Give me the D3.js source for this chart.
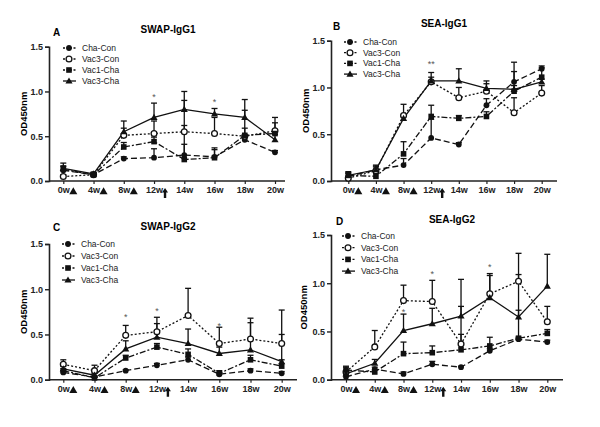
<!DOCTYPE html>
<html>
<head>
<meta charset="utf-8">
<script src="https://cdn.jsdelivr.net/npm/d3@7"></script>
<style>
  body { margin: 0; background: #fff; }
  svg { font-family: "Liberation Sans", Arial, sans-serif; }
  .tick text { font-size: 9px; font-weight: bold; fill: #222; }
</style>
</head>
<body>
<div id="chart"></div>
<script>
// Time points and groups
var weeks = ["0w", "4w", "8w", "12w", "14w", "16w", "18w", "20w"];
var groups = ["Cha-Con", "Vac3-Con", "Vac1-Cha", "Vac3-Cha"];
var yTicks = [0, 0.5, 1.0, 1.5];
var boostWeeks = ["0w", "4w", "8w"];   // triangles under the axis
var challengeWeek = "12w";             // arrow under the axis

// Means per group (rows follow "groups") and upper SEM
var swapIgG1Mean = [
  [0.12, 0.07, 0.25, 0.26, 0.29, 0.27, 0.46, 0.32],
  [0.05, 0.07, 0.51, 0.53, 0.55, 0.53, 0.50, 0.56],
  [0.13, 0.07, 0.38, 0.44, 0.24, 0.26, 0.51, 0.53],
  [0.14, 0.08, 0.55, 0.71, 0.80, 0.75, 0.71, 0.46]
];
var swapIgG1Err = [
  [0.05, 0.02, 0.02, 0.10, 0.12, 0.10, 0.03, 0.02],
  [0.02, 0.02, 0.08, 0.14, 0.35, 0.18, 0.09, 0.15],
  [0.03, 0.02, 0.05, 0.05, 0.38, 0.09, 0.28, 0.12],
  [0.06, 0.02, 0.12, 0.16, 0.20, 0.06, 0.20, 0.06]
];
var seaIgG1Mean = [
  [0.05, 0.12, 0.17, 0.46, 0.39, 0.81, 1.06, 1.20],
  [0.03, 0.11, 0.70, 1.06, 0.89, 0.96, 0.73, 0.94],
  [0.06, 0.05, 0.29, 0.69, 0.67, 0.69, 0.96, 1.11],
  [0.06, 0.12, 0.67, 1.07, 1.07, 0.99, 0.98, 1.06]
];
var seaIgG1Err = [
  [0.03, 0.04, 0.07, 0.20, 0.02, 0.07, 0.21, 0.03],
  [0.02, 0.04, 0.12, 0.05, 0.11, 0.11, 0.16, 0.08],
  [0.04, 0.03, 0.13, 0.12, 0.03, 0.05, 0.21, 0.10],
  [0.03, 0.05, 0.02, 0.09, 0.13, 0.05, 0.04, 0.03]
];
var swapIgG2Mean = [
  [0.08, 0.03, 0.10, 0.16, 0.22, 0.06, 0.10, 0.07],
  [0.17, 0.10, 0.49, 0.53, 0.71, 0.40, 0.45, 0.40],
  [0.10, 0.02, 0.24, 0.36, 0.28, 0.07, 0.22, 0.15],
  [0.12, 0.05, 0.34, 0.47, 0.40, 0.29, 0.33, 0.20]
];
var swapIgG2Err = [
  [0.02, 0.01, 0.01, 0.02, 0.03, 0.02, 0.02, 0.02],
  [0.05, 0.06, 0.11, 0.16, 0.30, 0.18, 0.23, 0.37],
  [0.02, 0.01, 0.03, 0.04, 0.06, 0.03, 0.05, 0.07],
  [0.03, 0.02, 0.09, 0.15, 0.16, 0.07, 0.30, 0.30]
];
var seaIgG2Mean = [
  [0.03, 0.11, 0.06, 0.16, 0.13, 0.30, 0.42, 0.39],
  [0.08, 0.34, 0.82, 0.81, 0.37, 0.89, 1.02, 0.60],
  [0.10, 0.08, 0.27, 0.28, 0.31, 0.35, 0.43, 0.48],
  [0.06, 0.17, 0.51, 0.58, 0.66, 0.85, 0.65, 0.97]
];
var seaIgG2Err = [
  [0.02, 0.02, 0.02, 0.03, 0.01, 0.02, 0.02, 0.02],
  [0.06, 0.17, 0.16, 0.22, 0.39, 0.21, 0.29, 0.16],
  [0.03, 0.02, 0.12, 0.07, 0.16, 0.09, 0.29, 0.04],
  [0.03, 0.04, 0.17, 0.16, 0.38, 0.23, 0.44, 0.33]
];

// Significance marks: [week, value where the mark sits, text]
var swapIgG1Stars = [["12w", 0.96, "*"], ["16w", 0.91, "*"]];
var seaIgG1Stars = [["12w", 1.27, "**"]];
var swapIgG2Stars = [["8w", 0.71, "*"], ["12w", 0.78, "*"], ["16w", 0.62, "*"]];
var seaIgG2Stars = [["8w", 0.72, "*"], ["12w", 1.12, "*"], ["16w", 1.19, "*"]];

var width = 600, height = 427;

var svg = d3.select("#chart").append("svg")
    .attr("width", width)
    .attr("height", height);

// Line style per group
var dashes = ["6,3", "2,2", "6,2,2,2", null];

// Panel geometry (pixel box of each small chart)
var panels = [
  { letter: "A", title: "SWAP-IgG1", mean: swapIgG1Mean, err: swapIgG1Err, stars: swapIgG1Stars,
    axisX: 49, axisEnd: 285, x0: 63.3, x1: 275, y0: 181, y1: 46.7,
    titleX: 168, titleY: 33, letterX: 53, letterY: 36, labelX: 27,
    legX: 63, legY: 48, legGap: 11 },
  { letter: "B", title: "SEA-IgG1", mean: seaIgG1Mean, err: seaIgG1Err, stars: seaIgG1Stars,
    axisX: 331, axisEnd: 557, x0: 348.3, x1: 541.7, y0: 181, y1: 40.7,
    titleX: 444, titleY: 27, letterX: 333, letterY: 30, labelX: 309,
    legX: 344, legY: 42, legGap: 10.7 },
  { letter: "C", title: "SWAP-IgG2", mean: swapIgG2Mean, err: swapIgG2Err, stars: swapIgG2Stars,
    axisX: 49, axisEnd: 297, x0: 63.3, x1: 281.7, y0: 379.7, y1: 244,
    titleX: 168, titleY: 230, letterX: 53, letterY: 231, labelX: 27,
    legX: 62, legY: 244, legGap: 12 },
  { letter: "D", title: "SEA-IgG2", mean: seaIgG2Mean, err: seaIgG2Err, stars: seaIgG2Stars,
    axisX: 331, axisEnd: 563, x0: 346, x1: 547.3, y0: 379.7, y1: 235,
    titleX: 452, titleY: 223, letterX: 336, letterY: 225, labelX: 307,
    legX: 342, legY: 236, legGap: 11.7 }
];

panels.forEach(drawPanel);

function drawMarker(g, i, cx, cy) {
  if (i === 0) {
    g.append("circle").attr("cx", cx).attr("cy", cy).attr("r", 2.9).attr("fill", "#111");
  } else if (i === 1) {
    g.append("circle").attr("cx", cx).attr("cy", cy).attr("r", 2.9)
      .attr("fill", "#fff").attr("stroke", "#111").attr("stroke-width", 1.3);
  } else if (i === 2) {
    g.append("rect").attr("x", cx - 2.8).attr("y", cy - 2.8).attr("width", 5.6).attr("height", 5.6).attr("fill", "#111");
  } else {
    g.append("path").attr("transform", "translate(" + cx + "," + (cy + 0.5) + ")")
      .attr("d", d3.symbol(d3.symbolTriangle).size(22)).attr("fill", "#111");
  }
}

function drawPanel(p) {
  var g = svg.append("g");

  var x = d3.scalePoint().domain(weeks).range([p.x0, p.x1]);
  var y = d3.scaleLinear().domain([0, 1.5]).range([p.y0, p.y1]);

  // y axis
  var yAxis = d3.axisLeft(y).tickValues(yTicks).tickFormat(d3.format(".1f")).tickSize(4).tickPadding(2);
  var ya = g.append("g").attr("transform", "translate(" + p.axisX + ",0)").call(yAxis);
  ya.select(".domain").attr("stroke-width", 1.6).attr("stroke", "#222");
  ya.selectAll(".tick line").attr("stroke-width", 1.4).attr("stroke", "#222");

  // x axis
  var xAxis = d3.axisBottom(x).tickSize(3).tickPadding(3);
  var xa = g.append("g").attr("transform", "translate(0," + p.y0 + ")").call(xAxis);
  xa.select(".domain").remove();
  xa.selectAll(".tick line").attr("stroke-width", 1.2).attr("stroke", "#222");
  xa.append("line").attr("x1", p.axisX).attr("x2", p.axisEnd)
    .attr("stroke", "#222").attr("stroke-width", 1.6);

  // immunisation triangles and challenge arrow
  boostWeeks.forEach(function(w) {
    g.append("path")
      .attr("transform", "translate(" + (x(w) + 10) + "," + (p.y0 + 11) + ")")
      .attr("d", d3.symbol(d3.symbolTriangle).size(28))
      .attr("fill", "#111");
  });
  var ax = x(challengeWeek) + 11, ay = p.y0 + 7;
  g.append("path")
    .attr("d", "M" + ax + "," + ay + " l3,4.5 h-1.8 v5.5 h-2.4 v-5.5 h-1.8 z")
    .attr("fill", "#111");

  // titles
  g.append("text").attr("x", p.titleX).attr("y", p.titleY)
    .attr("text-anchor", "middle").attr("font-size", 10).attr("font-weight", "bold")
    .text(p.title);
  g.append("text").attr("x", p.letterX).attr("y", p.letterY)
    .attr("font-size", 10).attr("font-weight", "bold").text(p.letter);
  g.append("text")
    .attr("transform", "translate(" + p.labelX + "," + ((p.y0 + p.y1) / 2) + ") rotate(-90)")
    .attr("text-anchor", "middle").attr("font-size", 9.5).attr("font-weight", "bold")
    .text("OD450nm");

  // error bars (upper only)
  p.mean.forEach(function(row, i) {
    row.forEach(function(v, j) {
      var cx = x(weeks[j]), top = y(v + p.err[i][j]);
      g.append("line").attr("x1", cx).attr("x2", cx).attr("y1", y(v)).attr("y2", top)
        .attr("stroke", "#111").attr("stroke-width", 1.3);
      g.append("line").attr("x1", cx - 3).attr("x2", cx + 3).attr("y1", top).attr("y2", top)
        .attr("stroke", "#111").attr("stroke-width", 1.3);
    });
  });

  // lines
  var line = d3.line().x(function(d, j) { return x(weeks[j]); }).y(function(d) { return y(d); });
  p.mean.forEach(function(row, i) {
    g.append("path").datum(row).attr("d", line)
      .attr("fill", "none").attr("stroke", "#111").attr("stroke-width", 1.3)
      .attr("stroke-dasharray", dashes[i]);
  });

  // markers
  p.mean.forEach(function(row, i) {
    row.forEach(function(v, j) { drawMarker(g, i, x(weeks[j]), y(v)); });
  });

  // significance stars
  p.stars.forEach(function(s) {
    g.append("text").attr("x", x(s[0])).attr("y", y(s[1]) + 5)
      .attr("text-anchor", "middle").attr("font-size", 9).attr("fill", "#555")
      .text(s[2]);
  });

  // legend
  groups.forEach(function(name, i) {
    var ly = p.legY + i * p.legGap;
    g.append("line").attr("x1", p.legX).attr("x2", p.legX + 13).attr("y1", ly).attr("y2", ly)
      .attr("stroke", "#111").attr("stroke-width", 1.3).attr("stroke-dasharray", dashes[i] ? "2,1.5" : null);
    drawMarker(g, i, p.legX + 6, ly);
    g.append("text").attr("x", p.legX + 19).attr("y", ly + 3)
      .attr("font-size", 8.5).attr("fill", "#222").text(name);
  });
}
</script>
</body>
</html>
